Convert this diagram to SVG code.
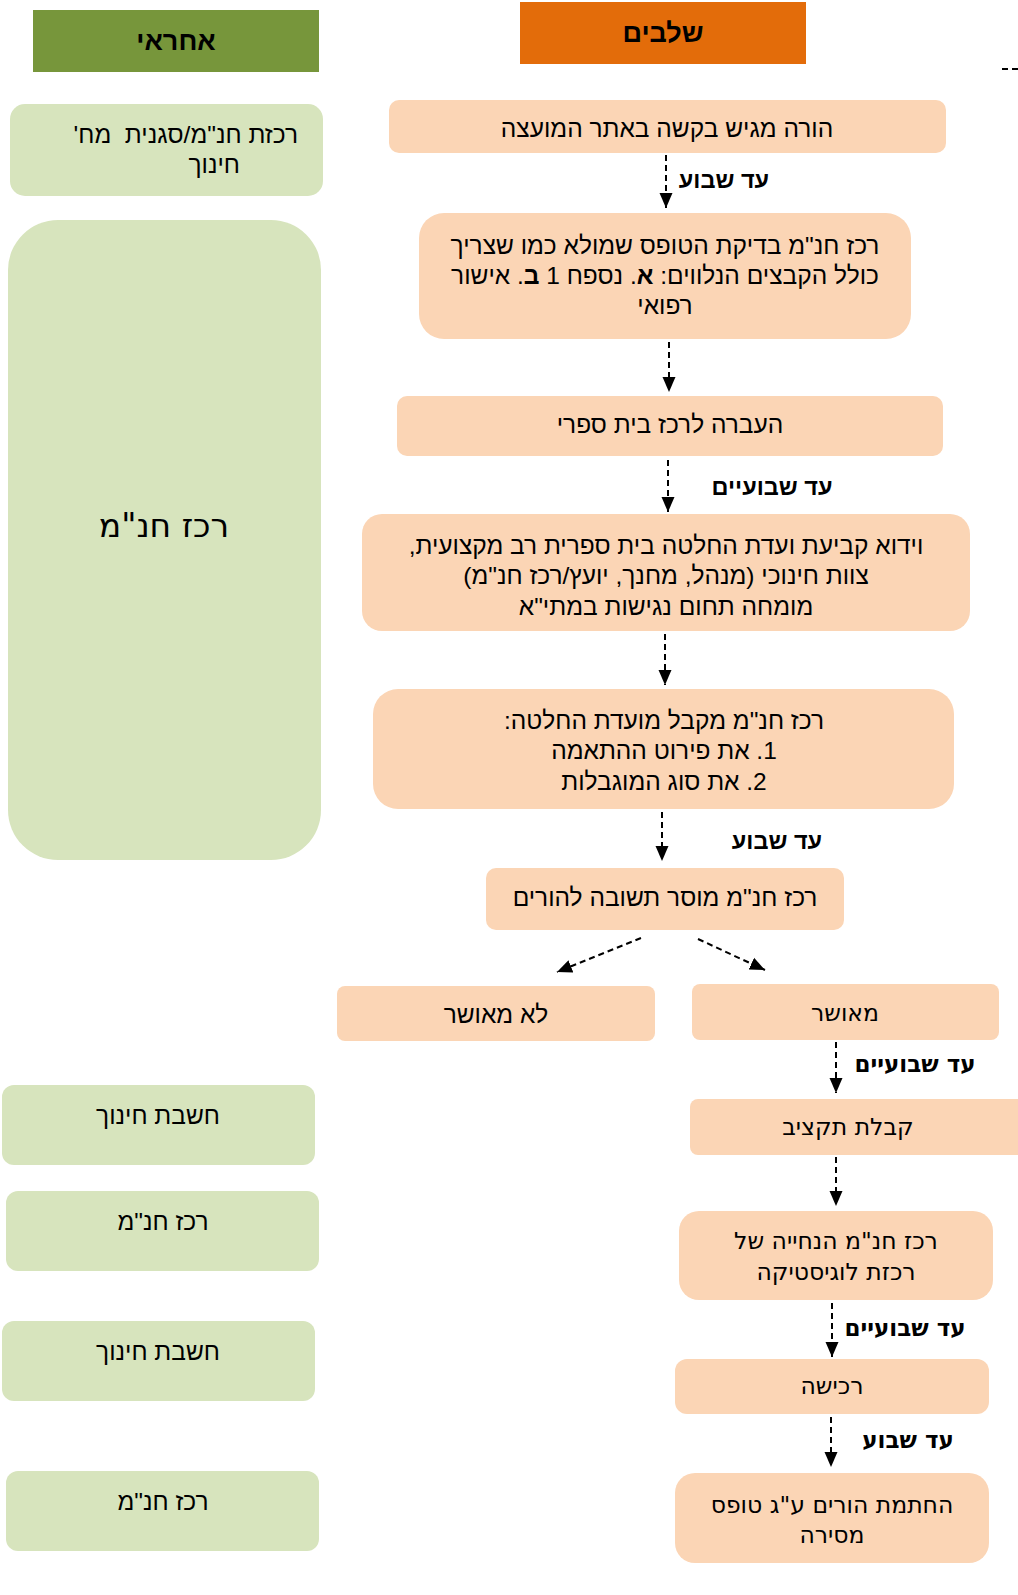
<svg xmlns="http://www.w3.org/2000/svg" width="1018" height="1595" viewBox="0 0 1018 1595">
<style>
text{font-family:"Liberation Sans",Arial,sans-serif;fill:#000;direction:rtl;unicode-bidi:embed;}
.t{font-size:24.5px;text-anchor:middle;}
.d{font-family:"DejaVu Sans","Liberation Sans",sans-serif;font-size:23.5px;text-anchor:middle;}
.h{font-size:27px;font-weight:bold;text-anchor:middle;}
.lb{font-size:23.5px;font-weight:bold;text-anchor:middle;}
.lbd{font-family:"DejaVu Sans","Liberation Sans",sans-serif;font-size:23px;font-weight:bold;text-anchor:middle;}
.g{fill:#D7E4BD;}
.o{fill:#FBD5B5;}
.c{stroke:#000;stroke-width:2;stroke-dasharray:6 4;fill:none;}
</style>
<defs>
<marker id="ah" markerUnits="userSpaceOnUse" markerWidth="16" markerHeight="16" viewBox="0 0 16 16" refX="15" refY="8" orient="auto">
<path d="M0,1.5 L15,8 L0,14.5 Z" fill="#000"/>
</marker>
</defs>
<rect width="1018" height="1595" fill="#fff"/>

<g id="hdr-responsible">
<rect x="33" y="10" width="286" height="62" fill="#77963B"/>
<text class="h" x="176" y="50">אחראי</text>
</g>
<g id="hdr-stages">
<rect x="520" y="2" width="286" height="62" fill="#E36C0A"/>
<text class="h" x="663" y="42">שלבים</text>
</g>

<g id="r1">
<rect class="g" x="10" y="104" width="313" height="92" rx="15"/>
<text class="t" x="298" y="143" style="text-anchor:start;white-space:pre">רכזת חנ"מ/סגנית  מח'</text>
<text class="t" x="240" y="173" style="text-anchor:start">חינוך</text>
</g>
<g id="r2">
<rect class="g" x="8" y="220" width="313" height="640" rx="50"/>
<text class="d" x="164" y="537" style="font-size:33px">רכז חנ"מ</text>
</g>
<g id="r3">
<rect class="g" x="2" y="1085" width="313" height="80" rx="12"/>
<text class="t" x="158" y="1124">חשבת חינוך</text>
</g>
<g id="r4">
<rect class="g" x="6" y="1191" width="313" height="80" rx="12"/>
<text class="t" x="163" y="1230">רכז חנ"מ</text>
</g>
<g id="r5">
<rect class="g" x="2" y="1321" width="313" height="80" rx="12"/>
<text class="t" x="158" y="1360">חשבת חינוך</text>
</g>
<g id="r6">
<rect class="g" x="6" y="1471" width="313" height="80" rx="12"/>
<text class="t" x="163" y="1510">רכז חנ"מ</text>
</g>

<g id="s1">
<rect class="o" x="389" y="100" width="557" height="53" rx="10"/>
<text class="t" x="667" y="137">הורה מגיש בקשה באתר המועצה</text>
</g>
<g id="s2">
<rect class="o" x="419" y="213" width="492" height="126" rx="25"/>
<text class="t" x="665" y="254">רכז חנ"מ בדיקת הטופס שמולא כמו שצריך</text>
<text class="t" x="665" y="284">כולל הקבצים הנלווים: <tspan font-weight="bold">א</tspan>. נספח 1 <tspan font-weight="bold">ב</tspan>. אישור</text>
<text class="t" x="665" y="314">רפואי</text>
</g>
<g id="s3">
<rect class="o" x="397" y="396" width="546" height="60" rx="10"/>
<text class="t" x="670" y="433">העברה לרכז בית ספרי</text>
</g>
<g id="s4">
<rect class="o" x="362" y="514" width="608" height="117" rx="20"/>
<text class="t" x="666" y="554">וידוא קביעת ועדת החלטה בית ספרית רב מקצועית,</text>
<text class="t" x="666" y="584">צוות חינוכי (מנהל, מחנך, יועץ/רכז חנ"מ)</text>
<text class="t" x="666" y="615">מומחה תחום נגישות במתי"א</text>
</g>
<g id="s5">
<rect class="o" x="373" y="689" width="581" height="120" rx="25"/>
<text class="t" x="664" y="729">רכז חנ"מ מקבל מועדת החלטה:</text>
<text class="t" x="664" y="759">1. את פירוט ההתאמה</text>
<text class="t" x="664" y="790">2. את סוג המוגבלות</text>
</g>
<g id="s6">
<rect class="o" x="486" y="868" width="358" height="62" rx="10"/>
<text class="t" x="665" y="906">רכז חנ"מ מוסר תשובה להורים</text>
</g>
<g id="s7">
<rect class="o" x="337" y="986" width="318" height="55" rx="8"/>
<text class="t" x="496" y="1023">לא מאושר</text>
</g>
<g id="s8">
<rect class="o" x="692" y="984" width="307" height="56" rx="8"/>
<text class="d" x="845" y="1021">מאושר</text>
</g>
<g id="s9">
<rect class="o" x="690" y="1099" width="340" height="56" rx="8"/>
<text class="d" x="848" y="1135">קבלת תקציב</text>
</g>
<g id="s10">
<rect class="o" x="679" y="1211" width="314" height="89" rx="20"/>
<text class="d" x="836" y="1249">רכז חנ"מ הנחייה של</text>
<text class="d" x="836" y="1280">רכזת לוגיסטיקה</text>
</g>
<g id="s11">
<rect class="o" x="675" y="1359" width="314" height="55" rx="12"/>
<text class="d" x="832" y="1394">רכישה</text>
</g>
<g id="s12">
<rect class="o" x="675" y="1473" width="314" height="90" rx="20"/>
<text class="d" x="832" y="1513">החתמת הורים ע"ג טופס</text>
<text class="d" x="832" y="1543">מסירה</text>
</g>

<g id="connectors">
<line class="c" x1="666" y1="155" x2="666" y2="208" marker-end="url(#ah)"/>
<line class="c" x1="669" y1="342" x2="669" y2="392" marker-end="url(#ah)"/>
<line class="c" x1="668" y1="460" x2="668" y2="512" marker-end="url(#ah)"/>
<line class="c" x1="665" y1="634" x2="665" y2="685" marker-end="url(#ah)"/>
<line class="c" x1="662" y1="812" x2="662" y2="861" marker-end="url(#ah)"/>
<line class="c" x1="641" y1="938" x2="557" y2="972" marker-end="url(#ah)"/>
<line class="c" x1="698" y1="939" x2="765" y2="970" marker-end="url(#ah)"/>
<line class="c" x1="836" y1="1042" x2="836" y2="1093" marker-end="url(#ah)"/>
<line class="c" x1="836" y1="1157" x2="836" y2="1206" marker-end="url(#ah)"/>
<line class="c" x1="832" y1="1303" x2="832" y2="1357" marker-end="url(#ah)"/>
<line class="c" x1="831" y1="1417" x2="831" y2="1467" marker-end="url(#ah)"/>
<line class="c" x1="1002" y1="69" x2="1018" y2="69"/>
<text class="lb" x="724" y="188">עד שבוע</text>
<text class="lb" x="772" y="495">עד שבועיים</text>
<text class="lb" x="777" y="849">עד שבוע</text>
<text class="lbd" x="915" y="1072">עד שבועיים</text>
<text class="lbd" x="905" y="1336">עד שבועיים</text>
<text class="lbd" x="908" y="1448">עד שבוע</text>
</g>
</svg>
